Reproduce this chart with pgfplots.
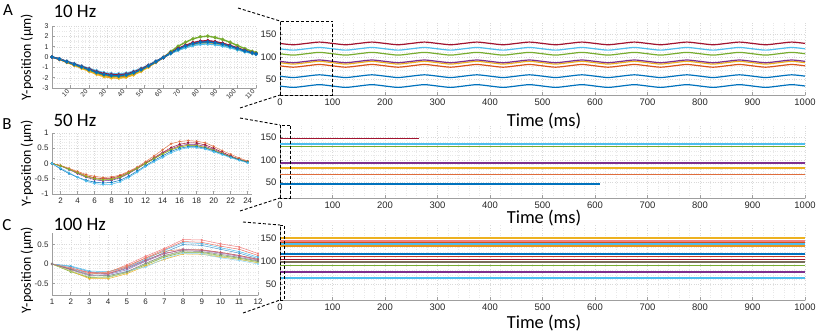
\documentclass[border=0pt]{standalone}
\usepackage{fontspec}
\setmainfont{Carlito}
\newfontfamily\tickfont{Liberation Sans}
\usepackage{pgfplots}
\usepackage{pgfplotstable}
\pgfplotsset{compat=1.18}

\definecolor{mblue}{RGB}{0,114,189}
\definecolor{morange}{RGB}{217,83,25}
\definecolor{myellow}{RGB}{237,177,32}
\definecolor{mpurple}{RGB}{126,47,142}
\definecolor{mgreen}{RGB}{119,172,48}
\definecolor{mcyan}{RGB}{77,190,238}
\definecolor{mred}{RGB}{162,20,47}
\definecolor{salmon}{RGB}{240,128,128}
\definecolor{olivegray}{RGB}{120,110,90}

\pgfplotsset{
  mat/.style={
    scale only axis,
    axis x line*=bottom, axis y line*=left,
    axis line style={gray!75, line width=0.6bp},
    tick style={gray!75, line width=0.5bp},
    major tick length=2.5bp, minor tick length=0pt,
    tick align=inside,
    grid=both,
    major grid style={gray!30, dotted, line width=0.3bp},
    minor grid style={gray!18, dotted, line width=0.3bp},
    tick label style={font=\tickfont\fontsize{9.5}{10}\selectfont, text=black!85},
    /pgf/number format/assume math mode=true,
    /pgf/number format/1000 sep={},
    scaled ticks=false,
    clip=false,
  },
  rightax/.style={mat, width=525bp, xmin=0, xmax=1000, ymin=15, ymax=180,
    xtick={0,100,...,1000}, ytick={50,100,150},
    minor x tick num=4, minor y tick num=4},
  smallticks/.style={tick label style={font=\tickfont\fontsize{#1}{#1}\selectfont, text=black!85}},
  trace/.style={color=#1, line width=1.4bp},
}
\tikzset{zoomline/.style={black, line width=0.9bp, dash pattern=on 3bp off 2bp}}

% 10 Hz, one period
\pgfplotstableread{
x s1 s2 s3 s4 s5 s6 s7 s8
0 0 0 0 0 0 0 0 0
4 -0.20 -0.22 -0.23 -0.20 -0.21 -0.18 -0.19 -0.20
8 -0.45 -0.49 -0.52 -0.45 -0.47 -0.41 -0.44 -0.46
12 -0.70 -0.76 -0.81 -0.70 -0.74 -0.64 -0.68 -0.71
16 -0.95 -1.03 -1.09 -0.95 -1.00 -0.87 -0.92 -0.97
20 -1.20 -1.30 -1.38 -1.20 -1.26 -1.10 -1.16 -1.22
24 -1.45 -1.57 -1.67 -1.45 -1.52 -1.33 -1.41 -1.48
28 -1.65 -1.78 -1.90 -1.65 -1.73 -1.52 -1.60 -1.68
32 -1.75 -1.89 -2.01 -1.75 -1.84 -1.61 -1.70 -1.79
36 -1.78 -1.92 -2.05 -1.78 -1.87 -1.64 -1.73 -1.82
40 -1.70 -1.84 -1.96 -1.70 -1.79 -1.56 -1.65 -1.73
44 -1.50 -1.62 -1.73 -1.50 -1.58 -1.38 -1.46 -1.53
48 -1.20 -1.30 -1.38 -1.20 -1.26 -1.10 -1.16 -1.22
52 -0.85 -0.92 -0.98 -0.85 -0.89 -0.78 -0.82 -0.87
56 -0.45 -0.49 -0.52 -0.45 -0.47 -0.41 -0.44 -0.46
60 -0.05 -0.05 -0.06 -0.05 -0.05 -0.05 -0.05 -0.05
64 0.36 0.38 0.34 0.40 0.52 0.33 0.41 0.38
68 0.72 0.76 0.68 0.80 1.04 0.66 0.82 0.76
72 0.99 1.05 0.94 1.10 1.43 0.90 1.12 1.05
76 1.22 1.28 1.15 1.35 1.76 1.11 1.38 1.28
80 1.35 1.43 1.28 1.50 1.95 1.23 1.53 1.43
84 1.40 1.47 1.32 1.55 2.02 1.27 1.58 1.47
88 1.31 1.38 1.23 1.45 1.89 1.19 1.48 1.38
92 1.17 1.24 1.11 1.30 1.69 1.07 1.33 1.24
96 0.99 1.05 0.94 1.10 1.43 0.90 1.12 1.05
100 0.77 0.81 0.72 0.85 1.11 0.70 0.87 0.81
104 0.56 0.59 0.53 0.62 0.81 0.51 0.63 0.59
108 0.38 0.40 0.36 0.42 0.55 0.34 0.43 0.40
110 0.29 0.30 0.27 0.32 0.42 0.26 0.33 0.30
}\leftA

% 10 Hz traces over 1 s
\pgfplotstableread{
t c1 c2 c3 c4 c5 c6 c7 c8
0 57 80 87 90 107 118 130 35
25 54 77 84 87 104 115 127 32
50 57 80 87 90 107 118 130 35
75 60 83 90 93 110 121 133 38
100 57 80 87 90 107 118 130 35
125 54 77 84 87 104 115 127 32
150 57 80 87 90 107 118 130 35
175 60 83 90 93 110 121 133 38
200 57 80 87 90 107 118 130 35
225 54 77 84 87 104 115 127 32
250 57 80 87 90 107 118 130 35
275 60 83 90 93 110 121 133 38
300 57 80 87 90 107 118 130 35
325 54 77 84 87 104 115 127 32
350 57 80 87 90 107 118 130 35
375 60 83 90 93 110 121 133 38
400 57 80 87 90 107 118 130 35
425 54 77 84 87 104 115 127 32
450 57 80 87 90 107 118 130 35
475 60 83 90 93 110 121 133 38
500 57 80 87 90 107 118 130 35
525 54 77 84 87 104 115 127 32
550 57 80 87 90 107 118 130 35
575 60 83 90 93 110 121 133 38
600 57 80 87 90 107 118 130 35
625 54 77 84 87 104 115 127 32
650 57 80 87 90 107 118 130 35
675 60 83 90 93 110 121 133 38
700 57 80 87 90 107 118 130 35
725 54 77 84 87 104 115 127 32
750 57 80 87 90 107 118 130 35
775 60 83 90 93 110 121 133 38
800 57 80 87 90 107 118 130 35
825 54 77 84 87 104 115 127 32
850 57 80 87 90 107 118 130 35
875 60 83 90 93 110 121 133 38
900 57 80 87 90 107 118 130 35
925 54 77 84 87 104 115 127 32
950 57 80 87 90 107 118 130 35
975 60 83 90 93 110 121 133 38
1000 57 80 87 90 107 118 130 35
}\rightA

% 50 Hz, one period
\pgfplotstableread{
x or rd pu ye gr bl cy
1 0 0 0 0 0 0 0
2 -0.06 -0.07 -0.08 -0.07 -0.08 -0.18 -0.15
3 -0.16 -0.18 -0.20 -0.18 -0.19 -0.33 -0.30
4 -0.26 -0.29 -0.33 -0.30 -0.31 -0.45 -0.45
5 -0.36 -0.40 -0.45 -0.41 -0.43 -0.55 -0.58
6 -0.42 -0.47 -0.53 -0.49 -0.50 -0.61 -0.66
7 -0.46 -0.50 -0.57 -0.52 -0.54 -0.64 -0.69
8 -0.44 -0.48 -0.55 -0.51 -0.52 -0.62 -0.68
9 -0.38 -0.41 -0.47 -0.43 -0.45 -0.55 -0.60
10 -0.26 -0.29 -0.33 -0.30 -0.31 -0.42 -0.46
11 -0.12 -0.15 -0.17 -0.16 -0.16 -0.25 -0.29
12 0.06 0.02 0.00 0.00 0.00 -0.07 -0.10
13 0.25 0.19 0.17 0.16 0.16 0.10 0.06
14 0.45 0.36 0.34 0.32 0.31 0.25 0.20
15 0.65 0.52 0.48 0.46 0.45 0.40 0.35
16 0.72 0.63 0.58 0.55 0.54 0.50 0.46
17 0.75 0.68 0.63 0.60 0.59 0.55 0.52
18 0.73 0.67 0.62 0.59 0.58 0.55 0.52
19 0.68 0.61 0.56 0.53 0.52 0.50 0.47
20 0.56 0.50 0.46 0.44 0.43 0.41 0.38
21 0.42 0.37 0.35 0.33 0.32 0.31 0.29
22 0.30 0.25 0.23 0.22 0.22 0.21 0.19
23 0.18 0.14 0.13 0.13 0.12 0.12 0.10
24 0.08 0.06 0.05 0.05 0.05 0.04 0.02
}\leftB

% 100 Hz, one period
\pgfplotstableread{
x c1 c2 c3 c4 c5 c6 c7 c8 c9 c10 c11 c12
1 0 0 0 0 0 0 0 0 0 0 0 0
2 -0.12 -0.05 -0.07 -0.12 -0.15 -0.13 -0.20 -0.18 -0.18 -0.10 -0.10 -0.14
3 -0.25 -0.18 -0.20 -0.27 -0.30 -0.22 -0.35 -0.38 -0.33 -0.28 -0.22 -0.28
4 -0.22 -0.20 -0.25 -0.20 -0.27 -0.25 -0.33 -0.38 -0.35 -0.30 -0.24 -0.30
5 -0.02 -0.08 -0.12 -0.05 -0.15 -0.10 -0.22 -0.25 -0.22 -0.18 -0.07 -0.20
6 0.20 0.12 0.08 0.15 0.07 0.10 -0.02 -0.05 0.00 -0.08 0.16 0.02
7 0.40 0.35 0.30 0.33 0.26 0.28 0.18 0.12 0.20 0.14 0.37 0.22
8 0.63 0.55 0.50 0.38 0.38 0.36 0.30 0.26 0.32 0.28 0.58 0.34
9 0.62 0.53 0.48 0.37 0.35 0.36 0.30 0.25 0.28 0.26 0.56 0.32
10 0.52 0.42 0.38 0.30 0.28 0.30 0.22 0.18 0.20 0.16 0.46 0.25
11 0.44 0.32 0.28 0.22 0.20 0.22 0.15 0.12 0.12 0.09 0.38 0.17
12 0.27 0.18 0.14 0.12 0.10 0.12 0.06 0.03 0.04 0.00 0.22 0.08
}\leftC

\begin{document}
\begin{tikzpicture}[x=1bp, y=1bp]
\useasboundingbox (0bp,0bp) rectangle (817bp,332bp);

% ---------- A: 10 Hz ----------
\begin{axis}[mat, smallticks=7, at={(52bp,244bp)}, anchor=south west,
    width=204bp, height=62bp, xmin=0, xmax=110, ymin=-3, ymax=3,
    xtick={10,20,...,110}, ytick={-3,...,3},
    minor x tick num=4, minor y tick num=1,
    xticklabel style={rotate=45, anchor=east, font=\tickfont\fontsize{6.5}{7}\selectfont}]
\addplot[mblue, line width=1.4bp, mark=*, mark size=1bp] table[x=x,y=s1]{\leftA};
\addplot[morange, line width=1.4bp, mark=*, mark size=1bp] table[x=x,y=s2]{\leftA};
\addplot[myellow, line width=1.4bp, mark=*, mark size=1bp] table[x=x,y=s3]{\leftA};
\addplot[mpurple, line width=1.4bp, mark=*, mark size=1bp] table[x=x,y=s4]{\leftA};
\addplot[mgreen, line width=1.4bp, mark=*, mark size=1bp] table[x=x,y=s5]{\leftA};
\addplot[mcyan, line width=1.4bp, mark=*, mark size=1bp] table[x=x,y=s6]{\leftA};
\addplot[mred, line width=1.4bp, mark=*, mark size=1bp] table[x=x,y=s7]{\leftA};
\addplot[mblue, line width=1.4bp, mark=*, mark size=1bp] table[x=x,y=s8]{\leftA};
\end{axis}

\begin{axis}[rightax, at={(280bp,237bp)}, anchor=south west, height=74bp]
\addplot[mblue, line width=1.2bp, smooth] table[x=t,y=c1]{\rightA};
\addplot[morange, line width=1.2bp, smooth] table[x=t,y=c2]{\rightA};
\addplot[myellow, line width=1.2bp, smooth] table[x=t,y=c3]{\rightA};
\addplot[mpurple, line width=1.2bp, smooth] table[x=t,y=c4]{\rightA};
\addplot[mgreen, line width=1.2bp, smooth] table[x=t,y=c5]{\rightA};
\addplot[mcyan, line width=1.2bp, smooth] table[x=t,y=c6]{\rightA};
\addplot[mred, line width=1.2bp, smooth] table[x=t,y=c7]{\rightA};
\addplot[mblue, line width=1.2bp, smooth] table[x=t,y=c8]{\rightA};
\draw[zoomline] (axis cs:0,15) rectangle (axis cs:100,180);
\end{axis}

% ---------- B: 50 Hz ----------
\begin{axis}[mat, smallticks=8, at={(52bp,138bp)}, anchor=south west,
    width=200bp, height=61bp, xmin=1, xmax=24.5, ymin=-1, ymax=1,
    xtick={2,4,...,24}, ytick={-1,-0.5,0,0.5,1},
    minor x tick num=1, minor y tick num=4]
\addplot[morange!80, line width=0.5bp, mark=*, mark size=0.9bp] table[x=x,y=or]{\leftB};
\addplot[mred, line width=0.5bp, mark=*, mark size=0.9bp] table[x=x,y=rd]{\leftB};
\addplot[mpurple, line width=0.5bp, mark=*, mark size=0.9bp] table[x=x,y=pu]{\leftB};
\addplot[myellow, line width=0.5bp, mark=*, mark size=0.9bp] table[x=x,y=ye]{\leftB};
\addplot[mgreen, line width=0.5bp, mark=*, mark size=0.9bp] table[x=x,y=gr]{\leftB};
\addplot[mblue, line width=0.5bp, mark=*, mark size=0.9bp] table[x=x,y=bl]{\leftB};
\addplot[mcyan, line width=0.5bp, mark=*, mark size=0.9bp] table[x=x,y=cy]{\leftB};
\end{axis}

\begin{axis}[rightax, at={(280bp,134bp)}, anchor=south west, height=73bp, ymax=178]
\addplot[trace=mred] coordinates {(0,148) (265,148)};
\addplot[trace=mcyan] coordinates {(0,136) (1000,136)};
\addplot[trace=mgreen] coordinates {(0,130) (1000,130)};
\addplot[trace=mpurple] coordinates {(0,93) (1000,93)};
\addplot[trace=myellow] coordinates {(0,82) (1000,82)};
\addplot[trace=morange!85] coordinates {(0,67) (1000,67)};
\addplot[trace=mblue] coordinates {(0,46) (610,46)};
\draw[zoomline] (axis cs:0,15) rectangle (axis cs:20,178);
\end{axis}

% ---------- C: 100 Hz ----------
\begin{axis}[mat, smallticks=8, at={(52bp,37bp)}, anchor=south west,
    width=206bp, height=62bp, xmin=1, xmax=12, ymin=-0.8, ymax=0.8,
    xtick={1,...,12}, ytick={-0.5,0,0.5},
    minor x tick num=1, minor y tick num=4]
\addplot[salmon, line width=0.5bp, mark=*, mark size=0.8bp] table[x=x,y=c1]{\leftC};
\addplot[mcyan, line width=0.5bp, mark=*, mark size=0.8bp] table[x=x,y=c2]{\leftC};
\addplot[mblue!70, line width=0.5bp, mark=*, mark size=0.8bp] table[x=x,y=c3]{\leftC};
\addplot[morange!70, line width=0.5bp, mark=*, mark size=0.8bp] table[x=x,y=c4]{\leftC};
\addplot[mpurple!70, line width=0.5bp, mark=*, mark size=0.8bp] table[x=x,y=c5]{\leftC};
\addplot[mred!70, line width=0.5bp, mark=*, mark size=0.8bp] table[x=x,y=c6]{\leftC};
\addplot[mgreen, line width=0.5bp, mark=*, mark size=0.8bp] table[x=x,y=c7]{\leftC};
\addplot[myellow, line width=0.5bp, mark=*, mark size=0.8bp] table[x=x,y=c8]{\leftC};
\addplot[mgreen!60, line width=0.5bp, mark=*, mark size=0.8bp] table[x=x,y=c9]{\leftC};
\addplot[mcyan!60, line width=0.5bp, mark=*, mark size=0.8bp] table[x=x,y=c10]{\leftC};
\addplot[salmon!80!morange, line width=0.5bp, mark=*, mark size=0.8bp] table[x=x,y=c11]{\leftC};
\addplot[gray, line width=0.5bp, mark=*, mark size=0.8bp] table[x=x,y=c12]{\leftC};
\end{axis}

\begin{axis}[rightax, at={(280bp,32bp)}, anchor=south west, height=75bp, ymax=178]
\addplot[trace=mcyan] coordinates {(0,63) (1000,63)};
\addplot[trace=mpurple] coordinates {(0,76) (1000,76)};
\addplot[trace=mgreen] coordinates {(0,90) (1000,90)};
\addplot[trace=olivegray] coordinates {(0,98) (1000,98)};
\addplot[trace=mred] coordinates {(0,103) (1000,103)};
\addplot[trace=morange!60!mred] coordinates {(0,110) (1000,110)};
\addplot[trace=mblue] coordinates {(0,115) (1000,115)};
\addplot[trace=myellow!70!morange] coordinates {(0,132) (1000,132)};
\addplot[trace=mcyan] coordinates {(0,137) (1000,137)};
\addplot[trace=morange] coordinates {(0,141) (1000,141)};
\addplot[trace=salmon] coordinates {(0,143) (1000,143)};
\addplot[trace=myellow] coordinates {(0,150) (1000,150)};
\draw[zoomline] (axis cs:0,15) rectangle (axis cs:8,178);
\end{axis}

% zoom connectors
\draw[zoomline] (238,324) -- (280,311);
\draw[zoomline] (240,224) -- (280,237);
\draw[zoomline] (240,214) -- (280,207);
\draw[zoomline] (240,121) -- (280,134);
\draw[zoomline] (243,110) -- (280,107);
\draw[zoomline] (243,19) -- (280,32);

% labels
\node[font=\fontsize{17}{17}\selectfont] at (8,322) {A};
\node[font=\fontsize{17}{17}\selectfont] at (7,208) {B};
\node[font=\fontsize{17}{17}\selectfont] at (7,107) {C};
\node[font=\fontsize{19}{19}\selectfont, anchor=west] at (50,321) {10 Hz};
\node[font=\fontsize{19}{19}\selectfont, anchor=west] at (50,212) {50 Hz};
\node[font=\fontsize{19}{19}\selectfont, anchor=west] at (50,108) {100 Hz};
\node[rotate=90, font=\fontsize{14}{14}\selectfont] at (27,275) {Y-position (µm)};
\node[rotate=90, font=\fontsize{14}{14}\selectfont] at (27,169) {Y-position (µm)};
\node[rotate=90, font=\fontsize{14}{14}\selectfont] at (27,62) {Y-position (µm)};
\node[font=\fontsize{18.5}{18.5}\selectfont] at (544,211) {Time (ms)};
\node[font=\fontsize{18.5}{18.5}\selectfont] at (544,114) {Time (ms)};
\node[font=\fontsize{18.5}{18.5}\selectfont] at (544,9) {Time (ms)};
\end{tikzpicture}
\end{document}
